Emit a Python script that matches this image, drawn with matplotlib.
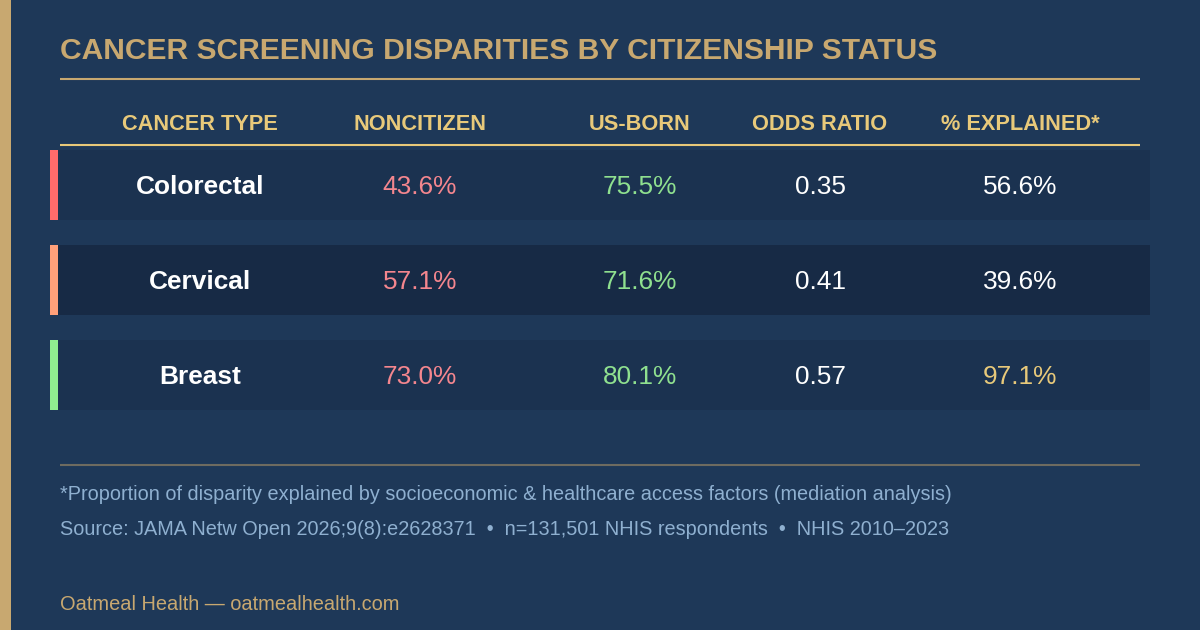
import matplotlib
matplotlib.use("Agg")
import matplotlib.pyplot as plt
from matplotlib.patches import Rectangle

plt.rcParams["font.family"] = ["Liberation Sans", "DejaVu Sans"]

# --- data ---
headers = ["CANCER TYPE", "NONCITIZEN", "US-BORN", "ODDS RATIO", "% EXPLAINED*"]
cancer_types = ["Colorectal", "Cervical", "Breast"]
noncitizen = [43.6, 57.1, 73.0]
us_born = [75.5, 71.6, 80.1]
odds_ratio = [0.35, 0.41, 0.57]
pct_explained = [56.6, 39.6, 97.1]
stripe_colors = ["#ff6b6b", "#ffa07a", "#90ee90"]

title = "CANCER SCREENING DISPARITIES BY CITIZENSHIP STATUS"
footnote = "*Proportion of disparity explained by socioeconomic & healthcare access factors (mediation analysis)"
source = "Source: JAMA Netw Open 2026;9(8):e2628371  \u2022  n=131,501 NHIS respondents  \u2022  NHIS 2010\u20132023"
brand = "Oatmeal Health \u2014 oatmealhealth.com"

# --- colours ---
BG = "#1e3858"
GOLD = "#c8a870"
HEAD = "#e8c97a"
ROW_BG = ["#1b3250", "#172a45", "#1b3250"]
RED_TXT = "#f4868e"
GREEN_TXT = "#8fe08f"
NOTE = "#8fb0d0"

W, H = 1200, 630
fig = plt.figure(figsize=(12, 6.3), dpi=100)
fig.patch.set_facecolor(BG)
ax = fig.add_axes([0, 0, 1, 1])
ax.set_xlim(0, W)
ax.set_ylim(H, 0)
ax.axis("off")

def px(s):
    # pixel font size -> points
    return s * 0.72

# left gold band
ax.add_patch(Rectangle((0, 0), 11, H, color=GOLD, lw=0))

# title + rule
ax.text(60, 59, title, color=GOLD, fontsize=px(30), fontweight="bold", va="baseline", ha="left")
ax.plot([60, 1140], [79, 79], color=GOLD, lw=1.5, solid_capstyle="butt")

# header row
col_x = [200, 420, 640, 820, 1020]
for x, h in zip(col_x, headers):
    ax.text(x, 130, h, color=HEAD, fontsize=px(21.8), fontweight="bold", ha="center", va="baseline")
ax.plot([60, 1140], [145, 145], color=HEAD, lw=1.5, solid_capstyle="butt")

# data rows
row_top = [150, 245, 340]
row_h = 70
fs = px(26.3)
for i, name in enumerate(cancer_types):
    y0 = row_top[i]
    yb = y0 + 44  # text baseline
    ax.add_patch(Rectangle((50, y0), 1100, row_h, color=ROW_BG[i], lw=0))
    ax.add_patch(Rectangle((50, y0), 8, row_h, color=stripe_colors[i], lw=0))
    ax.text(col_x[0], yb, name, color="white", fontsize=fs, fontweight="bold", ha="center", va="baseline")
    ax.text(col_x[1], yb, f"{noncitizen[i]:.1f}%", color=RED_TXT, fontsize=fs, ha="center", va="baseline")
    ax.text(col_x[2], yb, f"{us_born[i]:.1f}%", color=GREEN_TXT, fontsize=fs, ha="center", va="baseline")
    ax.text(col_x[3], yb, f"{odds_ratio[i]:.2f}", color="white", fontsize=fs, ha="center", va="baseline")
    exp_color = HEAD if pct_explained[i] > 90 else "white"
    ax.text(col_x[4], yb, f"{pct_explained[i]:.1f}%", color=exp_color, fontsize=fs, ha="center", va="baseline")

# footer
ax.plot([60, 1140], [465, 465], color="#6e6b60", lw=1.5, solid_capstyle="butt")
ax.text(60, 500, footnote, color=NOTE, fontsize=px(19.9), ha="left", va="baseline")
ax.text(60, 535, source, color=NOTE, fontsize=px(19.9), ha="left", va="baseline")
ax.text(60, 610, brand, color=GOLD, fontsize=px(20), ha="left", va="baseline")

fig.savefig("out.png", dpi=100, facecolor=BG)
